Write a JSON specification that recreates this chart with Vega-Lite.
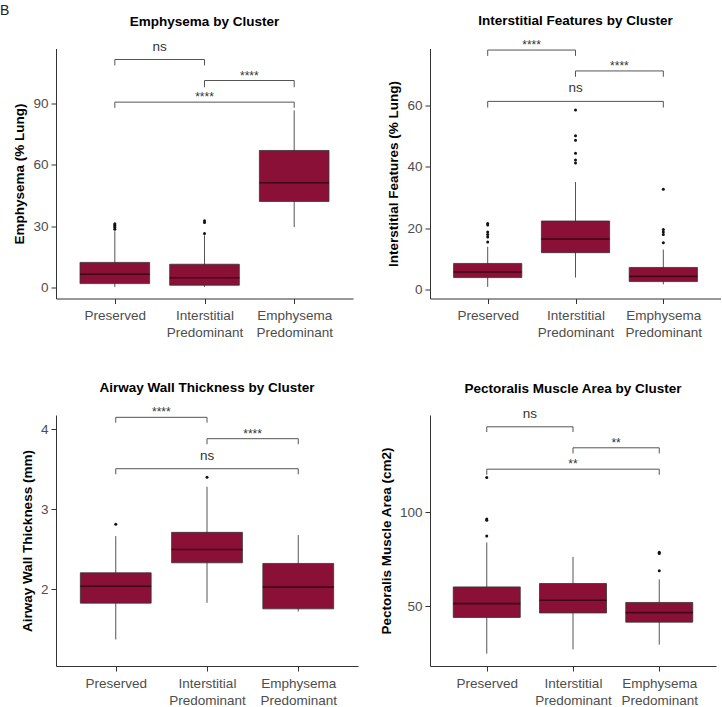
{
  "$schema": "https://vega.github.io/schema/vega-lite/v6.json",
  "padding": {"top": 3.5, "left": 0, "right": 0, "bottom": 0},
  "title": {"text": "B", "anchor": "start", "frame": "group", "fontWeight": "normal", "fontSize": 14, "font": "Liberation Sans", "color": "#222222", "offset": -3.5, "dx": -56},
  "config": {
    "view": {"stroke": null},
    "font": "Liberation Sans",
    "axis": {"grid": false, "domainColor": "#333333", "domainWidth": 1, "tickColor": "#333333", "tickSize": 5, "labelFont": "Liberation Sans", "labelFontSize": 13.5, "labelColor": "#4d4d4d", "labelPadding": 3, "titleFont": "Liberation Sans", "titleFontSize": 13.5, "titleFontWeight": "bold", "titleColor": "#000000", "titlePadding": 6, "labelOverlap": false, "labelFlush": false, "labelBound": false},
    "axisX": {"labelLineHeight": 17, "labelBaseline": "top", "labelPadding": 5},
    "title": {"font": "Liberation Sans", "fontSize": 13.5, "fontWeight": "bold", "color": "#000000", "frame": "group", "anchor": "middle", "offset": 11.5}
  },
  "datasets": {
    "boxes": [
      {"panel": "E", "cluster": "Preserved", "lower": 0.1, "q1": 1.8, "median": 6.4, "q3": 12.2, "upper": 27.5},
      {"panel": "E", "cluster": "Interstitial Predominant", "lower": 0.2, "q1": 1.0, "median": 4.7, "q3": 11.3, "upper": 25.5},
      {"panel": "E", "cluster": "Emphysema Predominant", "lower": 29.5, "q1": 42.1, "median": 51.3, "q3": 67.1, "upper": 86.7},
      {"panel": "I", "cluster": "Preserved", "lower": 0.85, "q1": 3.9, "median": 5.7, "q3": 8.5, "upper": 13.9},
      {"panel": "I", "cluster": "Interstitial Predominant", "lower": 3.9, "q1": 12.0, "median": 16.4, "q3": 22.3, "upper": 35.0},
      {"panel": "I", "cluster": "Emphysema Predominant", "lower": 1.7, "q1": 2.6, "median": 4.3, "q3": 7.2, "upper": 13.0},
      {"panel": "A", "cluster": "Preserved", "lower": 1.371, "q1": 1.825, "median": 2.037, "q3": 2.204, "upper": 2.662},
      {"panel": "A", "cluster": "Interstitial Predominant", "lower": 1.829, "q1": 2.329, "median": 2.496, "q3": 2.709, "upper": 3.279},
      {"panel": "A", "cluster": "Emphysema Predominant", "lower": 1.721, "q1": 1.754, "median": 2.025, "q3": 2.321, "upper": 2.675},
      {"panel": "P", "cluster": "Preserved", "lower": 24.7, "q1": 44.0, "median": 51.4, "q3": 60.3, "upper": 84.0},
      {"panel": "P", "cluster": "Interstitial Predominant", "lower": 27.0, "q1": 46.4, "median": 53.2, "q3": 62.1, "upper": 76.3},
      {"panel": "P", "cluster": "Emphysema Predominant", "lower": 29.5, "q1": 41.5, "median": 46.6, "q3": 52.0, "upper": 64.3}
    ],
    "outliers": [
      {"panel": "E", "cluster": "Preserved", "value": 28.5},
      {"panel": "E", "cluster": "Preserved", "value": 29.3},
      {"panel": "E", "cluster": "Preserved", "value": 30.0},
      {"panel": "E", "cluster": "Preserved", "value": 30.6},
      {"panel": "E", "cluster": "Preserved", "value": 31.2},
      {"panel": "E", "cluster": "Interstitial Predominant", "value": 26.4},
      {"panel": "E", "cluster": "Interstitial Predominant", "value": 31.8},
      {"panel": "E", "cluster": "Interstitial Predominant", "value": 32.6},
      {"panel": "I", "cluster": "Preserved", "value": 15.5},
      {"panel": "I", "cluster": "Preserved", "value": 17.1},
      {"panel": "I", "cluster": "Preserved", "value": 17.9},
      {"panel": "I", "cluster": "Preserved", "value": 18.75},
      {"panel": "I", "cluster": "Preserved", "value": 21.0},
      {"panel": "I", "cluster": "Preserved", "value": 21.5},
      {"panel": "I", "cluster": "Interstitial Predominant", "value": 41.2},
      {"panel": "I", "cluster": "Interstitial Predominant", "value": 42.1},
      {"panel": "I", "cluster": "Interstitial Predominant", "value": 44.3},
      {"panel": "I", "cluster": "Interstitial Predominant", "value": 48.6},
      {"panel": "I", "cluster": "Interstitial Predominant", "value": 50.0},
      {"panel": "I", "cluster": "Interstitial Predominant", "value": 58.4},
      {"panel": "I", "cluster": "Emphysema Predominant", "value": 15.2},
      {"panel": "I", "cluster": "Emphysema Predominant", "value": 17.9},
      {"panel": "I", "cluster": "Emphysema Predominant", "value": 18.75},
      {"panel": "I", "cluster": "Emphysema Predominant", "value": 19.5},
      {"panel": "I", "cluster": "Emphysema Predominant", "value": 32.6},
      {"panel": "A", "cluster": "Preserved", "value": 2.81},
      {"panel": "A", "cluster": "Interstitial Predominant", "value": 3.396},
      {"panel": "P", "cluster": "Preserved", "value": 87.5},
      {"panel": "P", "cluster": "Preserved", "value": 95.9},
      {"panel": "P", "cluster": "Preserved", "value": 96.5},
      {"panel": "P", "cluster": "Preserved", "value": 118.7},
      {"panel": "P", "cluster": "Emphysema Predominant", "value": 68.9},
      {"panel": "P", "cluster": "Emphysema Predominant", "value": 78.1},
      {"panel": "P", "cluster": "Emphysema Predominant", "value": 78.8}
    ],
    "brackets": [
      {"panel": "E", "from": "Preserved", "to": "Interstitial Predominant", "y": 111.7, "yend": 108.8, "label": "ns"},
      {"panel": "E", "from": "Interstitial Predominant", "to": "Emphysema Predominant", "y": 101.4, "yend": 98.1, "label": "****"},
      {"panel": "E", "from": "Preserved", "to": "Emphysema Predominant", "y": 90.8, "yend": 88.0, "label": "****"},
      {"panel": "I", "from": "Preserved", "to": "Interstitial Predominant", "y": 77.9, "yend": 76.0, "label": "****"},
      {"panel": "I", "from": "Interstitial Predominant", "to": "Emphysema Predominant", "y": 71.1, "yend": 69.2, "label": "****"},
      {"panel": "I", "from": "Preserved", "to": "Emphysema Predominant", "y": 61.2, "yend": 59.2, "label": "ns"},
      {"panel": "A", "from": "Preserved", "to": "Interstitial Predominant", "y": 4.146, "yend": 4.079, "label": "****"},
      {"panel": "A", "from": "Interstitial Predominant", "to": "Emphysema Predominant", "y": 3.879, "yend": 3.81, "label": "****"},
      {"panel": "A", "from": "Preserved", "to": "Emphysema Predominant", "y": 3.504, "yend": 3.434, "label": "ns"},
      {"panel": "P", "from": "Preserved", "to": "Interstitial Predominant", "y": 145.7, "yend": 142.9, "label": "ns"},
      {"panel": "P", "from": "Interstitial Predominant", "to": "Emphysema Predominant", "y": 134.5, "yend": 131.5, "label": "**"},
      {"panel": "P", "from": "Preserved", "to": "Emphysema Predominant", "y": 123.1, "yend": 120.1, "label": "**"}
    ]
  },
  "vconcat": [
    {
      "hconcat": [
        {
          "width": 297, "height": 250,
          "title": {"text": "Emphysema by Cluster"},
          "layer": [
            {"data": {"name": "boxes"}, "transform": [{"filter": "datum.panel == 'E'"}, {"calculate": "indexof(['Preserved','Interstitial Predominant','Emphysema Predominant'], datum.cluster) + 1", "as": "pos"}],
             "mark": {"type": "rule", "color": "#555555", "strokeWidth": 1},
             "encoding": {"x": {"field": "pos", "type": "quantitative", "title": null, "scale": {"domain": [0.4, 3.6], "nice": false, "zero": false}, "axis": {"values": [1, 2, 3], "labelExpr": "datum.value == 1 ? 'Preserved' : datum.value == 2 ? ['Interstitial', 'Predominant'] : ['Emphysema', 'Predominant']"}},
                          "y": {"field": "lower", "type": "quantitative", "title": "Emphysema (% Lung)", "scale": {"domain": [-5.5, 117.1], "nice": false, "zero": false}, "axis": {"values": [0, 30, 60, 90], "format": "d"}}, "y2": {"field": "upper"}}},
            {"data": {"name": "boxes"}, "transform": [{"filter": "datum.panel == 'E'"}, {"calculate": "indexof(['Preserved','Interstitial Predominant','Emphysema Predominant'], datum.cluster) + 1", "as": "pos"}],
             "mark": {"type": "bar", "size": 69.6, "fill": "#8B1038", "stroke": "#333333", "strokeWidth": 0.8},
             "encoding": {"x": {"field": "pos", "type": "quantitative", "title": null}, "y": {"field": "q1", "type": "quantitative", "title": "Emphysema (% Lung)"}, "y2": {"field": "q3"}}},
            {"data": {"name": "boxes"}, "transform": [{"filter": "datum.panel == 'E'"}, {"calculate": "indexof(['Preserved','Interstitial Predominant','Emphysema Predominant'], datum.cluster) + 1", "as": "pos"}],
             "mark": {"type": "tick", "orient": "horizontal", "size": 69.6, "thickness": 1.6, "color": "#3d0717", "opacity": 1},
             "encoding": {"x": {"field": "pos", "type": "quantitative", "title": null}, "y": {"field": "median", "type": "quantitative", "title": "Emphysema (% Lung)"}}},
            {"data": {"name": "outliers"}, "transform": [{"filter": "datum.panel == 'E'"}, {"calculate": "indexof(['Preserved','Interstitial Predominant','Emphysema Predominant'], datum.cluster) + 1", "as": "pos"}],
             "mark": {"type": "circle", "size": 9, "color": "#111111", "opacity": 1},
             "encoding": {"x": {"field": "pos", "type": "quantitative", "title": null}, "y": {"field": "value", "type": "quantitative", "title": "Emphysema (% Lung)"}}},
            {"data": {"name": "brackets"}, "transform": [{"filter": "datum.panel == 'E'"}, {"calculate": "indexof(['Preserved','Interstitial Predominant','Emphysema Predominant'], datum.from) + 1", "as": "p1"}, {"calculate": "indexof(['Preserved','Interstitial Predominant','Emphysema Predominant'], datum.to) + 1", "as": "p2"}],
             "mark": {"type": "rule", "color": "#555555", "strokeWidth": 1},
             "encoding": {"x": {"field": "p1", "type": "quantitative", "title": null}, "x2": {"field": "p2"}, "y": {"field": "y", "type": "quantitative", "title": "Emphysema (% Lung)"}}},
            {"data": {"name": "brackets"}, "transform": [{"filter": "datum.panel == 'E'"}, {"calculate": "indexof(['Preserved','Interstitial Predominant','Emphysema Predominant'], datum.from) + 1", "as": "p1"}],
             "mark": {"type": "rule", "color": "#555555", "strokeWidth": 1},
             "encoding": {"x": {"field": "p1", "type": "quantitative", "title": null}, "y": {"field": "y", "type": "quantitative", "title": "Emphysema (% Lung)"}, "y2": {"field": "yend"}}},
            {"data": {"name": "brackets"}, "transform": [{"filter": "datum.panel == 'E'"}, {"calculate": "indexof(['Preserved','Interstitial Predominant','Emphysema Predominant'], datum.to) + 1", "as": "p2"}],
             "mark": {"type": "rule", "color": "#555555", "strokeWidth": 1},
             "encoding": {"x": {"field": "p2", "type": "quantitative", "title": null}, "y": {"field": "y", "type": "quantitative", "title": "Emphysema (% Lung)"}, "y2": {"field": "yend"}}},
            {"data": {"name": "brackets"}, "transform": [{"filter": "datum.panel == 'E' && datum.label == 'ns'"}, {"calculate": "(indexof(['Preserved','Interstitial Predominant','Emphysema Predominant'], datum.from) + indexof(['Preserved','Interstitial Predominant','Emphysema Predominant'], datum.to)) / 2 + 1", "as": "mid"}],
             "mark": {"type": "text", "fontSize": 13.5, "color": "#333333", "baseline": "alphabetic", "dy": -9},
             "encoding": {"x": {"field": "mid", "type": "quantitative", "title": null}, "y": {"field": "y", "type": "quantitative", "title": "Emphysema (% Lung)"}, "text": {"field": "label"}}},
            {"data": {"name": "brackets"}, "transform": [{"filter": "datum.panel == 'E' && datum.label != 'ns'"}, {"calculate": "(indexof(['Preserved','Interstitial Predominant','Emphysema Predominant'], datum.from) + indexof(['Preserved','Interstitial Predominant','Emphysema Predominant'], datum.to)) / 2 + 1", "as": "mid"}],
             "mark": {"type": "text", "fontSize": 12, "color": "#333333", "baseline": "alphabetic", "dy": -1},
             "encoding": {"x": {"field": "mid", "type": "quantitative", "title": null}, "y": {"field": "y", "type": "quantitative", "title": "Emphysema (% Lung)"}, "text": {"field": "label"}}}
          ]
        },
        {
          "width": 291, "height": 250,
          "title": {"text": "Interstitial Features by Cluster"},
          "layer": [
            {"data": {"name": "boxes"}, "transform": [{"filter": "datum.panel == 'I'"}, {"calculate": "indexof(['Preserved','Interstitial Predominant','Emphysema Predominant'], datum.cluster) + 1", "as": "pos"}],
             "mark": {"type": "rule", "color": "#555555", "strokeWidth": 1},
             "encoding": {"x": {"field": "pos", "type": "quantitative", "title": null, "scale": {"domain": [0.4, 3.6], "nice": false, "zero": false}, "axis": {"values": [1, 2, 3], "labelExpr": "datum.value == 1 ? 'Preserved' : datum.value == 2 ? ['Interstitial', 'Predominant'] : ['Emphysema', 'Predominant']"}},
                          "y": {"field": "lower", "type": "quantitative", "title": "Interstitial Features (% Lung)", "scale": {"domain": [-2.9, 78.4], "nice": false, "zero": false}, "axis": {"values": [0, 20, 40, 60], "format": "d"}}, "y2": {"field": "upper"}}},
            {"data": {"name": "boxes"}, "transform": [{"filter": "datum.panel == 'I'"}, {"calculate": "indexof(['Preserved','Interstitial Predominant','Emphysema Predominant'], datum.cluster) + 1", "as": "pos"}],
             "mark": {"type": "bar", "size": 68.2, "fill": "#8B1038", "stroke": "#333333", "strokeWidth": 0.8},
             "encoding": {"x": {"field": "pos", "type": "quantitative", "title": null}, "y": {"field": "q1", "type": "quantitative", "title": "Interstitial Features (% Lung)"}, "y2": {"field": "q3"}}},
            {"data": {"name": "boxes"}, "transform": [{"filter": "datum.panel == 'I'"}, {"calculate": "indexof(['Preserved','Interstitial Predominant','Emphysema Predominant'], datum.cluster) + 1", "as": "pos"}],
             "mark": {"type": "tick", "orient": "horizontal", "size": 68.2, "thickness": 1.6, "color": "#3d0717", "opacity": 1},
             "encoding": {"x": {"field": "pos", "type": "quantitative", "title": null}, "y": {"field": "median", "type": "quantitative", "title": "Interstitial Features (% Lung)"}}},
            {"data": {"name": "outliers"}, "transform": [{"filter": "datum.panel == 'I'"}, {"calculate": "indexof(['Preserved','Interstitial Predominant','Emphysema Predominant'], datum.cluster) + 1", "as": "pos"}],
             "mark": {"type": "circle", "size": 9, "color": "#111111", "opacity": 1},
             "encoding": {"x": {"field": "pos", "type": "quantitative", "title": null}, "y": {"field": "value", "type": "quantitative", "title": "Interstitial Features (% Lung)"}}},
            {"data": {"name": "brackets"}, "transform": [{"filter": "datum.panel == 'I'"}, {"calculate": "indexof(['Preserved','Interstitial Predominant','Emphysema Predominant'], datum.from) + 1", "as": "p1"}, {"calculate": "indexof(['Preserved','Interstitial Predominant','Emphysema Predominant'], datum.to) + 1", "as": "p2"}],
             "mark": {"type": "rule", "color": "#555555", "strokeWidth": 1},
             "encoding": {"x": {"field": "p1", "type": "quantitative", "title": null}, "x2": {"field": "p2"}, "y": {"field": "y", "type": "quantitative", "title": "Interstitial Features (% Lung)"}}},
            {"data": {"name": "brackets"}, "transform": [{"filter": "datum.panel == 'I'"}, {"calculate": "indexof(['Preserved','Interstitial Predominant','Emphysema Predominant'], datum.from) + 1", "as": "p1"}],
             "mark": {"type": "rule", "color": "#555555", "strokeWidth": 1},
             "encoding": {"x": {"field": "p1", "type": "quantitative", "title": null}, "y": {"field": "y", "type": "quantitative", "title": "Interstitial Features (% Lung)"}, "y2": {"field": "yend"}}},
            {"data": {"name": "brackets"}, "transform": [{"filter": "datum.panel == 'I'"}, {"calculate": "indexof(['Preserved','Interstitial Predominant','Emphysema Predominant'], datum.to) + 1", "as": "p2"}],
             "mark": {"type": "rule", "color": "#555555", "strokeWidth": 1},
             "encoding": {"x": {"field": "p2", "type": "quantitative", "title": null}, "y": {"field": "y", "type": "quantitative", "title": "Interstitial Features (% Lung)"}, "y2": {"field": "yend"}}},
            {"data": {"name": "brackets"}, "transform": [{"filter": "datum.panel == 'I' && datum.label == 'ns'"}, {"calculate": "(indexof(['Preserved','Interstitial Predominant','Emphysema Predominant'], datum.from) + indexof(['Preserved','Interstitial Predominant','Emphysema Predominant'], datum.to)) / 2 + 1", "as": "mid"}],
             "mark": {"type": "text", "fontSize": 13.5, "color": "#333333", "baseline": "alphabetic", "dy": -9},
             "encoding": {"x": {"field": "mid", "type": "quantitative", "title": null}, "y": {"field": "y", "type": "quantitative", "title": "Interstitial Features (% Lung)"}, "text": {"field": "label"}}},
            {"data": {"name": "brackets"}, "transform": [{"filter": "datum.panel == 'I' && datum.label != 'ns'"}, {"calculate": "(indexof(['Preserved','Interstitial Predominant','Emphysema Predominant'], datum.from) + indexof(['Preserved','Interstitial Predominant','Emphysema Predominant'], datum.to)) / 2 + 1", "as": "mid"}],
             "mark": {"type": "text", "fontSize": 12, "color": "#333333", "baseline": "alphabetic", "dy": -1},
             "encoding": {"x": {"field": "mid", "type": "quantitative", "title": null}, "y": {"field": "y", "type": "quantitative", "title": "Interstitial Features (% Lung)"}, "text": {"field": "label"}}}
          ]
        }
      ],
      "spacing": 77,
      "bounds": "flush"
    },
    {
      "hconcat": [
        {
          "width": 302, "height": 251,
          "title": {"text": "Airway Wall Thickness by Cluster"},
          "layer": [
            {"data": {"name": "boxes"}, "transform": [{"filter": "datum.panel == 'A'"}, {"calculate": "indexof(['Preserved','Interstitial Predominant','Emphysema Predominant'], datum.cluster) + 1", "as": "pos"}],
             "mark": {"type": "rule", "color": "#555555", "strokeWidth": 1},
             "encoding": {"x": {"field": "pos", "type": "quantitative", "title": null, "scale": {"domain": [0.4, 3.6], "nice": false, "zero": false}, "axis": {"values": [1, 2, 3], "labelExpr": "datum.value == 1 ? 'Preserved' : datum.value == 2 ? ['Interstitial', 'Predominant'] : ['Emphysema', 'Predominant']"}},
                          "y": {"field": "lower", "type": "quantitative", "title": "Airway Wall Thickness (mm)", "scale": {"domain": [1.04, 4.175], "nice": false, "zero": false}, "axis": {"values": [2, 3, 4], "format": "d"}}, "y2": {"field": "upper"}}},
            {"data": {"name": "boxes"}, "transform": [{"filter": "datum.panel == 'A'"}, {"calculate": "indexof(['Preserved','Interstitial Predominant','Emphysema Predominant'], datum.cluster) + 1", "as": "pos"}],
             "mark": {"type": "bar", "size": 70.8, "fill": "#8B1038", "stroke": "#333333", "strokeWidth": 0.8},
             "encoding": {"x": {"field": "pos", "type": "quantitative", "title": null}, "y": {"field": "q1", "type": "quantitative", "title": "Airway Wall Thickness (mm)"}, "y2": {"field": "q3"}}},
            {"data": {"name": "boxes"}, "transform": [{"filter": "datum.panel == 'A'"}, {"calculate": "indexof(['Preserved','Interstitial Predominant','Emphysema Predominant'], datum.cluster) + 1", "as": "pos"}],
             "mark": {"type": "tick", "orient": "horizontal", "size": 70.8, "thickness": 1.6, "color": "#3d0717", "opacity": 1},
             "encoding": {"x": {"field": "pos", "type": "quantitative", "title": null}, "y": {"field": "median", "type": "quantitative", "title": "Airway Wall Thickness (mm)"}}},
            {"data": {"name": "outliers"}, "transform": [{"filter": "datum.panel == 'A'"}, {"calculate": "indexof(['Preserved','Interstitial Predominant','Emphysema Predominant'], datum.cluster) + 1", "as": "pos"}],
             "mark": {"type": "circle", "size": 9, "color": "#111111", "opacity": 1},
             "encoding": {"x": {"field": "pos", "type": "quantitative", "title": null}, "y": {"field": "value", "type": "quantitative", "title": "Airway Wall Thickness (mm)"}}},
            {"data": {"name": "brackets"}, "transform": [{"filter": "datum.panel == 'A'"}, {"calculate": "indexof(['Preserved','Interstitial Predominant','Emphysema Predominant'], datum.from) + 1", "as": "p1"}, {"calculate": "indexof(['Preserved','Interstitial Predominant','Emphysema Predominant'], datum.to) + 1", "as": "p2"}],
             "mark": {"type": "rule", "color": "#555555", "strokeWidth": 1},
             "encoding": {"x": {"field": "p1", "type": "quantitative", "title": null}, "x2": {"field": "p2"}, "y": {"field": "y", "type": "quantitative", "title": "Airway Wall Thickness (mm)"}}},
            {"data": {"name": "brackets"}, "transform": [{"filter": "datum.panel == 'A'"}, {"calculate": "indexof(['Preserved','Interstitial Predominant','Emphysema Predominant'], datum.from) + 1", "as": "p1"}],
             "mark": {"type": "rule", "color": "#555555", "strokeWidth": 1},
             "encoding": {"x": {"field": "p1", "type": "quantitative", "title": null}, "y": {"field": "y", "type": "quantitative", "title": "Airway Wall Thickness (mm)"}, "y2": {"field": "yend"}}},
            {"data": {"name": "brackets"}, "transform": [{"filter": "datum.panel == 'A'"}, {"calculate": "indexof(['Preserved','Interstitial Predominant','Emphysema Predominant'], datum.to) + 1", "as": "p2"}],
             "mark": {"type": "rule", "color": "#555555", "strokeWidth": 1},
             "encoding": {"x": {"field": "p2", "type": "quantitative", "title": null}, "y": {"field": "y", "type": "quantitative", "title": "Airway Wall Thickness (mm)"}, "y2": {"field": "yend"}}},
            {"data": {"name": "brackets"}, "transform": [{"filter": "datum.panel == 'A' && datum.label == 'ns'"}, {"calculate": "(indexof(['Preserved','Interstitial Predominant','Emphysema Predominant'], datum.from) + indexof(['Preserved','Interstitial Predominant','Emphysema Predominant'], datum.to)) / 2 + 1", "as": "mid"}],
             "mark": {"type": "text", "fontSize": 13.5, "color": "#333333", "baseline": "alphabetic", "dy": -9},
             "encoding": {"x": {"field": "mid", "type": "quantitative", "title": null}, "y": {"field": "y", "type": "quantitative", "title": "Airway Wall Thickness (mm)"}, "text": {"field": "label"}}},
            {"data": {"name": "brackets"}, "transform": [{"filter": "datum.panel == 'A' && datum.label != 'ns'"}, {"calculate": "(indexof(['Preserved','Interstitial Predominant','Emphysema Predominant'], datum.from) + indexof(['Preserved','Interstitial Predominant','Emphysema Predominant'], datum.to)) / 2 + 1", "as": "mid"}],
             "mark": {"type": "text", "fontSize": 12, "color": "#333333", "baseline": "alphabetic", "dy": -1},
             "encoding": {"x": {"field": "mid", "type": "quantitative", "title": null}, "y": {"field": "y", "type": "quantitative", "title": "Airway Wall Thickness (mm)"}, "text": {"field": "label"}}}
          ]
        },
        {
          "width": 286, "height": 251,
          "title": {"text": "Pectoralis Muscle Area by Cluster"},
          "layer": [
            {"data": {"name": "boxes"}, "transform": [{"filter": "datum.panel == 'P'"}, {"calculate": "indexof(['Preserved','Interstitial Predominant','Emphysema Predominant'], datum.cluster) + 1", "as": "pos"}],
             "mark": {"type": "rule", "color": "#555555", "strokeWidth": 1},
             "encoding": {"x": {"field": "pos", "type": "quantitative", "title": null, "scale": {"domain": [0.4, 3.6], "nice": false, "zero": false}, "axis": {"values": [1, 2, 3], "labelExpr": "datum.value == 1 ? 'Preserved' : datum.value == 2 ? ['Interstitial', 'Predominant'] : ['Emphysema', 'Predominant']"}},
                          "y": {"field": "lower", "type": "quantitative", "title": "Pectoralis Muscle Area (cm2)", "scale": {"domain": [18.1, 152], "nice": false, "zero": false}, "axis": {"values": [50, 100], "format": "d"}}, "y2": {"field": "upper"}}},
            {"data": {"name": "boxes"}, "transform": [{"filter": "datum.panel == 'P'"}, {"calculate": "indexof(['Preserved','Interstitial Predominant','Emphysema Predominant'], datum.cluster) + 1", "as": "pos"}],
             "mark": {"type": "bar", "size": 67, "fill": "#8B1038", "stroke": "#333333", "strokeWidth": 0.8},
             "encoding": {"x": {"field": "pos", "type": "quantitative", "title": null}, "y": {"field": "q1", "type": "quantitative", "title": "Pectoralis Muscle Area (cm2)"}, "y2": {"field": "q3"}}},
            {"data": {"name": "boxes"}, "transform": [{"filter": "datum.panel == 'P'"}, {"calculate": "indexof(['Preserved','Interstitial Predominant','Emphysema Predominant'], datum.cluster) + 1", "as": "pos"}],
             "mark": {"type": "tick", "orient": "horizontal", "size": 67, "thickness": 1.6, "color": "#3d0717", "opacity": 1},
             "encoding": {"x": {"field": "pos", "type": "quantitative", "title": null}, "y": {"field": "median", "type": "quantitative", "title": "Pectoralis Muscle Area (cm2)"}}},
            {"data": {"name": "outliers"}, "transform": [{"filter": "datum.panel == 'P'"}, {"calculate": "indexof(['Preserved','Interstitial Predominant','Emphysema Predominant'], datum.cluster) + 1", "as": "pos"}],
             "mark": {"type": "circle", "size": 9, "color": "#111111", "opacity": 1},
             "encoding": {"x": {"field": "pos", "type": "quantitative", "title": null}, "y": {"field": "value", "type": "quantitative", "title": "Pectoralis Muscle Area (cm2)"}}},
            {"data": {"name": "brackets"}, "transform": [{"filter": "datum.panel == 'P'"}, {"calculate": "indexof(['Preserved','Interstitial Predominant','Emphysema Predominant'], datum.from) + 1", "as": "p1"}, {"calculate": "indexof(['Preserved','Interstitial Predominant','Emphysema Predominant'], datum.to) + 1", "as": "p2"}],
             "mark": {"type": "rule", "color": "#555555", "strokeWidth": 1},
             "encoding": {"x": {"field": "p1", "type": "quantitative", "title": null}, "x2": {"field": "p2"}, "y": {"field": "y", "type": "quantitative", "title": "Pectoralis Muscle Area (cm2)"}}},
            {"data": {"name": "brackets"}, "transform": [{"filter": "datum.panel == 'P'"}, {"calculate": "indexof(['Preserved','Interstitial Predominant','Emphysema Predominant'], datum.from) + 1", "as": "p1"}],
             "mark": {"type": "rule", "color": "#555555", "strokeWidth": 1},
             "encoding": {"x": {"field": "p1", "type": "quantitative", "title": null}, "y": {"field": "y", "type": "quantitative", "title": "Pectoralis Muscle Area (cm2)"}, "y2": {"field": "yend"}}},
            {"data": {"name": "brackets"}, "transform": [{"filter": "datum.panel == 'P'"}, {"calculate": "indexof(['Preserved','Interstitial Predominant','Emphysema Predominant'], datum.to) + 1", "as": "p2"}],
             "mark": {"type": "rule", "color": "#555555", "strokeWidth": 1},
             "encoding": {"x": {"field": "p2", "type": "quantitative", "title": null}, "y": {"field": "y", "type": "quantitative", "title": "Pectoralis Muscle Area (cm2)"}, "y2": {"field": "yend"}}},
            {"data": {"name": "brackets"}, "transform": [{"filter": "datum.panel == 'P' && datum.label == 'ns'"}, {"calculate": "(indexof(['Preserved','Interstitial Predominant','Emphysema Predominant'], datum.from) + indexof(['Preserved','Interstitial Predominant','Emphysema Predominant'], datum.to)) / 2 + 1", "as": "mid"}],
             "mark": {"type": "text", "fontSize": 13.5, "color": "#333333", "baseline": "alphabetic", "dy": -9},
             "encoding": {"x": {"field": "mid", "type": "quantitative", "title": null}, "y": {"field": "y", "type": "quantitative", "title": "Pectoralis Muscle Area (cm2)"}, "text": {"field": "label"}}},
            {"data": {"name": "brackets"}, "transform": [{"filter": "datum.panel == 'P' && datum.label != 'ns'"}, {"calculate": "(indexof(['Preserved','Interstitial Predominant','Emphysema Predominant'], datum.from) + indexof(['Preserved','Interstitial Predominant','Emphysema Predominant'], datum.to)) / 2 + 1", "as": "mid"}],
             "mark": {"type": "text", "fontSize": 12, "color": "#333333", "baseline": "alphabetic", "dy": -1},
             "encoding": {"x": {"field": "mid", "type": "quantitative", "title": null}, "y": {"field": "y", "type": "quantitative", "title": "Pectoralis Muscle Area (cm2)"}, "text": {"field": "label"}}}
          ]
        }
      ],
      "spacing": 72,
      "bounds": "flush"
    }
  ],
  "spacing": 366.5,
  "bounds": "flush"
}
